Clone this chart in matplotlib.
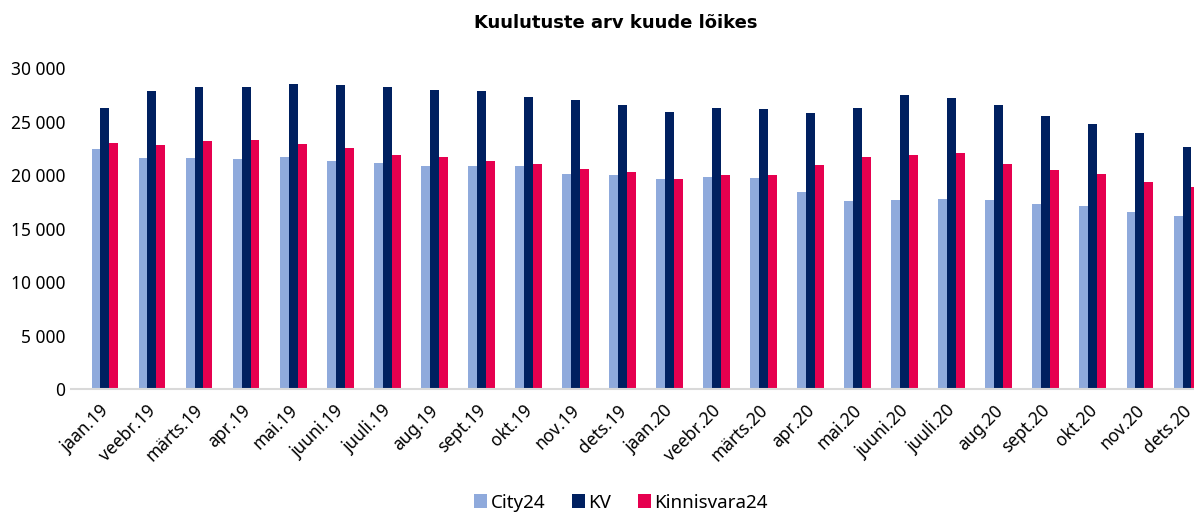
import matplotlib.pyplot as plt
import matplotlib.transforms as mtransforms
import numpy as np

plt.rcParams['font.family'] = ['Noto Sans', 'DejaVu Sans']

months = ['jaan.19', 'veebr.19', 'märts.19', 'apr.19', 'mai.19', 'juuni.19',
          'juuli.19', 'aug.19', 'sept.19', 'okt.19', 'nov.19', 'dets.19',
          'jaan.20', 'veebr.20', 'märts.20', 'apr.20', 'mai.20', 'juuni.20',
          'juuli.20', 'aug.20', 'sept.20', 'okt.20', 'nov.20', 'dets.20']

city24 = [22430, 21620, 21620, 21460, 21680, 21340, 21090, 20810, 20840, 20810,
          20120, 20000, 19600, 19810, 19720, 18410, 17570, 17660, 17760, 17630,
          17260, 17070, 16540, 16140]
kv = [26260, 27880, 28220, 28220, 28470, 28380, 28220, 27970, 27880, 27260,
      26980, 26570, 25890, 26230, 26170, 25790, 26260, 27450, 27200, 26510,
      25480, 24740, 23890, 22620]
kinnisvara24 = [22960, 22800, 23210, 23270, 22900, 22550, 21870, 21680, 21310, 21000,
                20530, 20280, 19630, 20000, 20000, 20900, 21680, 21870, 22030, 21030,
                20500, 20060, 19350, 18880]

series = [('City24', city24, '#8FAADC'),
          ('KV', kv, '#002060'),
          ('Kinnisvara24', kinnisvara24, '#E6004F')]

fig = plt.figure(figsize=(11.94, 5.13), dpi=100)
ax = fig.add_axes([0.0595, 0.2417, 0.963, 0.6257])

x = np.arange(len(months))
w = 0.19
for i, (name, vals, col) in enumerate(series):
    ax.bar(x + (i - 1) * w, vals, w, color=col, label=name)

ax.set_xlim(-0.72, len(months) - 1 + 0.72)
ax.set_ylim(0, 30000)
ax.set_yticks(range(0, 30001, 5000))
ax.set_yticklabels([f'{v:,}'.replace(',', ' ') for v in range(0, 30001, 5000)], fontsize=12.5)
ax.set_xticks(x)
ax.set_xticklabels(months, rotation=45, ha='right', va='top', rotation_mode='anchor', fontsize=12.5)
ax.tick_params(axis='both', length=0)
ax.tick_params(axis='x', pad=9)
ax.tick_params(axis='y', pad=4)

# nudge rotated labels a little to the left
shift = mtransforms.ScaledTranslation(-5 / 100, 0, fig.dpi_scale_trans)
for lab in ax.get_xticklabels():
    lab.set_transform(lab.get_transform() + shift)

for s in ['top', 'right', 'left']:
    ax.spines[s].set_visible(False)
ax.spines['bottom'].set_color('#D9D9D9')
ax.spines['bottom'].set_linewidth(1.5)

fig.text(0.516, 0.955, 'Kuulutuste arv kuude lõikes', ha='center', va='center',
         fontsize=13, fontweight='bold', family=['DejaVu Sans'])

fig.legend(loc='lower center', bbox_to_anchor=(0.52, -0.03), ncol=3, frameon=False,
           fontsize=13.5, handlelength=0.7, handleheight=0.7, handletextpad=0.2,
           columnspacing=1.4)

fig.savefig('out.png', dpi=100)
